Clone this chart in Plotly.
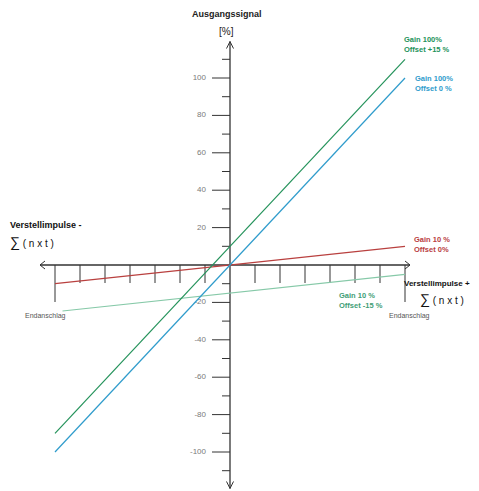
import plotly.graph_objects as go

# ---- data ----
x_ticks = [-6, -5, -4, -3, -2, -1, 1, 2, 3, 4, 5, 6]
x_end = [-7, 7]
y_major = [100, 80, 60, 40, 20, -20, -40, -60, -80, -100]
y_minor = [110, 90, 70, 50, 30, 10, -10, -30, -50, -70, -90, -110]

gain100_off15_x = [-7, 7]
gain100_off15_y = [-90, 110]
gain100_off0_x = [-7, 7]
gain100_off0_y = [-100, 100]
gain10_off0_x = [-7, 7]
gain10_off0_y = [-10, 10]
gain10_offm15_x = [-6.7, 7]
gain10_offm15_y = [-24.6, -5]

C_GREEN = "#23925a"
C_BLUE = "#2f9ccc"
C_RED = "#b9403f"
C_LGREEN = "#86c9a8"
C_AX = "#333333"
C_TXT = "#7a7a7a"

FONT = "Liberation Sans, Arial, sans-serif"

# page body margin offset (px) and pixel mapping in screenshot coordinates
OFF = 8
X0, Y0 = 230, 265
ppu_x = 25.0
ppu_y = 1.87
W, H = 479, 491
XR = [-(X0 - OFF) / ppu_x, (W - (X0 - OFF)) / ppu_x]
YR = [-(H - (Y0 - OFF)) / ppu_y, (Y0 - OFF) / ppu_y]

fig = go.Figure()

def seg(xs, ys, color, width=1.2):
    fig.add_trace(go.Scatter(x=xs, y=ys, mode="lines", line=dict(color=color, width=width),
                             hoverinfo="skip", showlegend=False))

# axes
x_lo, x_hi = -7.6, 7.2
y_lo, y_hi = -119.5, 119.5
seg([x_lo, x_hi], [0, 0], C_AX, 1.3)
seg([0, 0], [y_lo, y_hi], C_AX, 1.3)

# arrowheads (open chevrons)
ax_len = 5 / ppu_x
ay_len = 4 / ppu_y
seg([x_hi - ax_len, x_hi, x_hi - ax_len], [ay_len, 0, -ay_len], C_AX, 1.0)
seg([x_lo + ax_len, x_lo, x_lo + ax_len], [ay_len, 0, -ay_len], C_AX, 1.0)
hx = 3.5 / ppu_x
hy = 7 / ppu_y
seg([-hx, 0, hx], [y_hi - hy, y_hi, y_hi - hy], C_AX, 1.0)
seg([-hx, 0, hx], [y_lo + hy, y_lo, y_lo + hy], C_AX, 1.0)

# x ticks hanging below axis
tx, ty = [], []
for t in x_ticks:
    tx += [t, t, None]
    ty += [0, -18 / ppu_y, None]
for t in x_end:
    tx += [t, t, None]
    ty += [0, -37 / ppu_y, None]
seg(tx, ty, C_AX, 1.0)

# y ticks on left side
mx, my = [], []
for v in y_major:
    mx += [-18 / ppu_x, 0, None]
    my += [v, v, None]
seg(mx, my, C_AX, 1.0)
nx, ny = [], []
for v in y_minor:
    nx += [-8 / ppu_x, 0, None]
    ny += [v, v, None]
seg(nx, ny, C_AX, 1.0)

# y tick labels
fig.add_trace(go.Scatter(x=[-24 / ppu_x] * len(y_major), y=y_major, mode="text",
                         text=[str(v) for v in y_major], textposition="middle left",
                         textfont=dict(family=FONT, size=8, color=C_TXT),
                         hoverinfo="skip", showlegend=False))

# characteristic lines
seg(gain10_offm15_x, gain10_offm15_y, C_LGREEN, 1.2)
seg(gain10_off0_x, gain10_off0_y, C_RED, 1.2)
seg(gain100_off15_x, gain100_off15_y, C_GREEN, 1.2)
seg(gain100_off0_x, gain100_off0_y, C_BLUE, 1.2)

def px2u(px):
    return (px - X0) / ppu_x

def py2v(py):
    return (Y0 - py) / ppu_y

def label(px, py, text, color, size, xanchor="left", bold=False):
    if bold:
        text = "<b>" + text + "</b>"
    fig.add_annotation(x=px2u(px), y=py2v(py), text=text, showarrow=False,
                       xanchor=xanchor, yanchor="middle", align="left",
                       font=dict(family=FONT, size=size, color=color))

SUM = "<span style='font-size:14px'>∑</span> ( n x t )"

label(227, 14, "Ausgangssignal", "#222222", 9, "center", True)
label(226, 31, "[%]", "#222222", 10, "center")
label(402, 44.5, "Gain 100%<br>Offset +15 %", C_GREEN, 7.5, "left", True)
label(413, 83, "Gain 100%<br>Offset 0 %", C_BLUE, 7.5, "left", True)
label(412, 244.5, "Gain 10 %<br>Offset 0%", C_RED, 7.5, "left", True)
label(337, 300.5, "Gain 10 %<br>Offset -15 %", "#3f9e76", 7.5, "left", True)
label(387, 316, "Endanschlag", "#555555", 7, "left")
label(23, 316, "Endanschlag", "#555555", 7, "left")
label(402, 283, "Verstellimpulse +", "#111111", 8, "left", True)
label(418, 299, SUM, "#111111", 10, "left")
label(8, 225, "Verstellimpulse -", "#111111", 9, "left", True)
label(8, 242, SUM, "#111111", 10, "left")

fig.update_layout(
    width=W, height=H,
    margin=dict(l=0, r=0, t=0, b=0),
    paper_bgcolor="white", plot_bgcolor="white",
    xaxis=dict(range=XR, visible=False, fixedrange=True),
    yaxis=dict(range=YR, visible=False, fixedrange=True),
    showlegend=False,
)

fig.write_html("out.html")
